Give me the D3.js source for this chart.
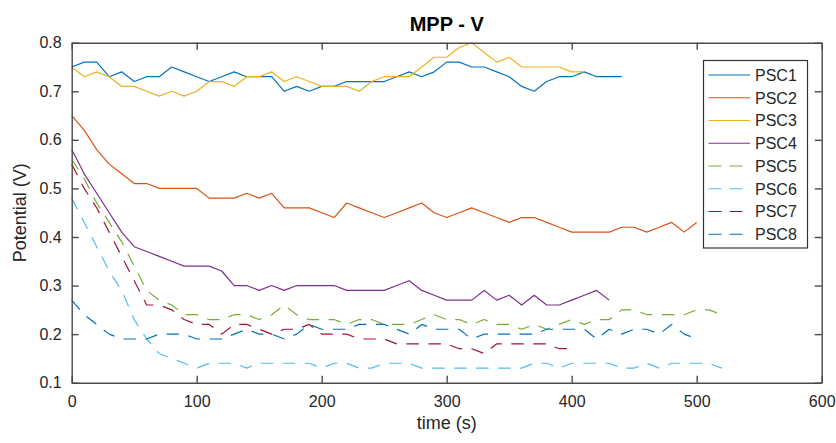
<!DOCTYPE html>
<html>
<head>
<meta charset="utf-8">
<script src="https://cdn.jsdelivr.net/npm/d3@7"></script>
<style>
  html, body { margin: 0; padding: 0; background: #ffffff; }
  svg { display: block; font-family: "Liberation Sans", Arial, Helvetica, sans-serif; }
</style>
</head>
<body>
<svg id="chart" width="836" height="443"></svg>
<script>
// ---- data ----
const times = [0,10,20,30,40,50,60,70,80,90,100,110,120,130,140,150,160,170,180,190,200,
  210,220,230,240,250,260,270,280,290,300,310,320,330,340,350,360,370,380,390,400,
  410,420,430,440,450,460,470,480,490,500,510,520];

const seriesNames = ["PSC1","PSC2","PSC3","PSC4","PSC5","PSC6","PSC7","PSC8"];

const psc1 = [0.75,0.76,0.76,0.73,0.74,0.72,0.73,0.73,0.75,0.74,
  0.73,0.72,0.73,0.74,0.73,0.73,0.73,0.70,0.71,0.70,
  0.71,0.71,0.72,0.72,0.72,0.72,0.73,0.74,0.73,0.74,
  0.76,0.76,0.75,0.75,0.74,0.73,0.71,0.70,0.72,0.73,
  0.73,0.74,0.73,0.73,0.73];
const psc2 = [0.65,0.62,0.58,0.55,0.53,0.51,0.51,0.50,0.50,0.50,
  0.50,0.48,0.48,0.48,0.49,0.48,0.49,0.46,0.46,0.46,
  0.45,0.44,0.47,0.46,0.45,0.44,0.45,0.46,0.47,0.45,
  0.44,0.45,0.46,0.45,0.44,0.43,0.44,0.44,0.43,0.42,
  0.41,0.41,0.41,0.41,0.42,0.42,0.41,0.42,0.43,0.41,
  0.43];
const psc3 = [0.75,0.73,0.74,0.73,0.71,0.71,0.70,0.69,0.70,0.69,
  0.70,0.72,0.72,0.71,0.73,0.73,0.74,0.72,0.73,0.72,
  0.71,0.71,0.71,0.70,0.72,0.73,0.73,0.73,0.75,0.77,
  0.77,0.79,0.80,0.78,0.76,0.77,0.75,0.75,0.75,0.75,
  0.74,0.74];
const psc4 = [0.58,0.53,0.49,0.45,0.41,0.38,0.37,0.36,0.35,0.34,
  0.34,0.34,0.33,0.30,0.30,0.29,0.30,0.29,0.30,0.30,
  0.30,0.30,0.29,0.29,0.29,0.29,0.30,0.31,0.29,0.28,
  0.27,0.27,0.27,0.29,0.27,0.28,0.26,0.28,0.26,0.26,
  0.27,0.28,0.29,0.27];
const psc5 = [0.56,0.52,0.47,0.43,0.39,0.34,0.29,0.27,0.26,0.24,
  0.24,0.23,0.23,0.24,0.24,0.23,0.24,0.26,0.24,0.23,
  0.23,0.23,0.22,0.23,0.23,0.22,0.22,0.22,0.23,0.24,
  0.23,0.23,0.22,0.23,0.22,0.22,0.21,0.22,0.21,0.22,
  0.23,0.22,0.23,0.23,0.25,0.25,0.24,0.24,0.24,0.24,
  0.25,0.25,0.24];
const psc6 = [0.48,0.43,0.38,0.33,0.29,0.23,0.19,0.16,0.15,0.14,
  0.13,0.14,0.14,0.14,0.13,0.14,0.14,0.14,0.14,0.14,
  0.13,0.14,0.14,0.13,0.13,0.14,0.14,0.14,0.13,0.13,
  0.13,0.13,0.13,0.13,0.13,0.13,0.13,0.14,0.14,0.13,
  0.14,0.14,0.14,0.14,0.13,0.13,0.14,0.13,0.14,0.14,
  0.14,0.14,0.13];
const psc7 = [0.55,0.50,0.46,0.41,0.36,0.31,0.26,0.26,0.25,0.23,
  0.22,0.22,0.20,0.22,0.22,0.21,0.20,0.21,0.21,0.22,
  0.20,0.20,0.20,0.19,0.19,0.19,0.18,0.18,0.18,0.18,
  0.18,0.17,0.17,0.16,0.18,0.18,0.18,0.18,0.18,0.17,
  0.17];
const psc8 = [0.27,0.24,0.22,0.20,0.19,0.19,0.19,0.20,0.20,0.20,
  0.19,0.19,0.19,0.20,0.21,0.20,0.20,0.19,0.20,0.22,
  0.21,0.21,0.21,0.22,0.22,0.22,0.21,0.20,0.22,0.21,
  0.21,0.21,0.19,0.20,0.20,0.20,0.20,0.20,0.21,0.21,
  0.21,0.21,0.19,0.21,0.20,0.21,0.21,0.20,0.22,0.20,
  0.19];

const xTicks = [0,100,200,300,400,500,600];
const yTicks = [0.1,0.2,0.3,0.4,0.5,0.6,0.7,0.8];

const colors = ["#0072BD","#D95319","#EDB120","#7E2F8E","#77AC30","#4DBEEE","#A2142F","#0072BD"];
const dashed = [false,false,false,false,true,true,true,true];
const allValues = [psc1,psc2,psc3,psc4,psc5,psc6,psc7,psc8];

// ---- layout ----
const plotLeft = 71.7, plotRight = 821.7, plotTop = 42.7, plotBottom = 382.7;
const x = d3.scaleLinear().domain([0,600]).range([plotLeft,plotRight]);
const y = d3.scaleLinear().domain([0.1,0.8]).range([plotBottom,plotTop]);

const svg = d3.select("#chart");
const axisColor = "#4a4a4a";
const textColor = "#262626";

// series
const line = d3.line().x(d => x(d.t)).y(d => y(d.v));
const gLines = svg.append("g");
allValues.forEach((vals, i) => {
  const pts = vals.map((v, k) => ({t: times[k], v: v}));
  gLines.append("path")
    .datum(pts)
    .attr("d", line)
    .attr("fill", "none")
    .attr("stroke", colors[i])
    .attr("stroke-width", 1.2)
    .attr("stroke-linejoin", "round")
    .attr("stroke-dasharray", dashed[i] ? "12.5,9.5" : null);
});

// axes
function styleAxis(g) {
  g.selectAll(".domain").attr("stroke", axisColor).attr("stroke-width", 1.4);
  g.selectAll(".tick line").attr("stroke", axisColor).attr("stroke-width", 1.4);
  g.selectAll(".tick text").attr("fill", textColor).attr("font-size", 16)
    .attr("font-family", "'Liberation Sans', Arial, Helvetica, sans-serif");
}
svg.append("g").attr("transform", `translate(0,${plotBottom})`)
  .call(d3.axisBottom(x).tickValues(xTicks).tickFormat(d3.format("d"))
    .tickSizeInner(-7).tickSizeOuter(0).tickPadding(13))
  .call(styleAxis);
svg.append("g").attr("transform", `translate(0,${plotTop})`)
  .call(d3.axisTop(x).tickValues(xTicks).tickFormat("")
    .tickSizeInner(-7).tickSizeOuter(0))
  .call(styleAxis);
svg.append("g").attr("transform", `translate(${plotLeft},0)`)
  .call(d3.axisLeft(y).tickValues(yTicks).tickFormat(d3.format(".1f"))
    .tickSizeInner(-7).tickSizeOuter(0).tickPadding(10))
  .call(styleAxis);
svg.append("g").attr("transform", `translate(${plotRight},0)`)
  .call(d3.axisRight(y).tickValues(yTicks).tickFormat("")
    .tickSizeInner(-7).tickSizeOuter(0))
  .call(styleAxis);

// title and labels
svg.append("text")
  .attr("x", (plotLeft + plotRight) / 2).attr("y", 31)
  .attr("text-anchor", "middle")
  .attr("font-size", 20).attr("font-weight", "bold").attr("fill", "#000")
  .text("MPP - V");
svg.append("text")
  .attr("x", (plotLeft + plotRight) / 2).attr("y", 429)
  .attr("text-anchor", "middle")
  .attr("font-size", 18).attr("fill", textColor)
  .text("time (s)");
svg.append("text")
  .attr("transform", `translate(26,${(plotTop + plotBottom) / 2}) rotate(-90)`)
  .attr("text-anchor", "middle")
  .attr("font-size", 18).attr("fill", textColor)
  .text("Potential (V)");

// legend
const lg = svg.append("g");
lg.append("rect")
  .attr("x", 703.5).attr("y", 60.5).attr("width", 104).attr("height", 187.5)
  .attr("fill", "#fff").attr("stroke", "#333").attr("stroke-width", 1.2);
seriesNames.forEach((name, i) => {
  const yy = 75 + i * 22.75;
  lg.append("line")
    .attr("x1", 708.5).attr("x2", 750).attr("y1", yy).attr("y2", yy)
    .attr("stroke", colors[i]).attr("stroke-width", 1.2)
    .attr("stroke-dasharray", dashed[i] ? "13,8" : null);
  lg.append("text")
    .attr("x", 755).attr("y", yy).attr("dy", "0.36em")
    .attr("font-size", 16).attr("fill", textColor)
    .text(name);
});
</script>
</body>
</html>
